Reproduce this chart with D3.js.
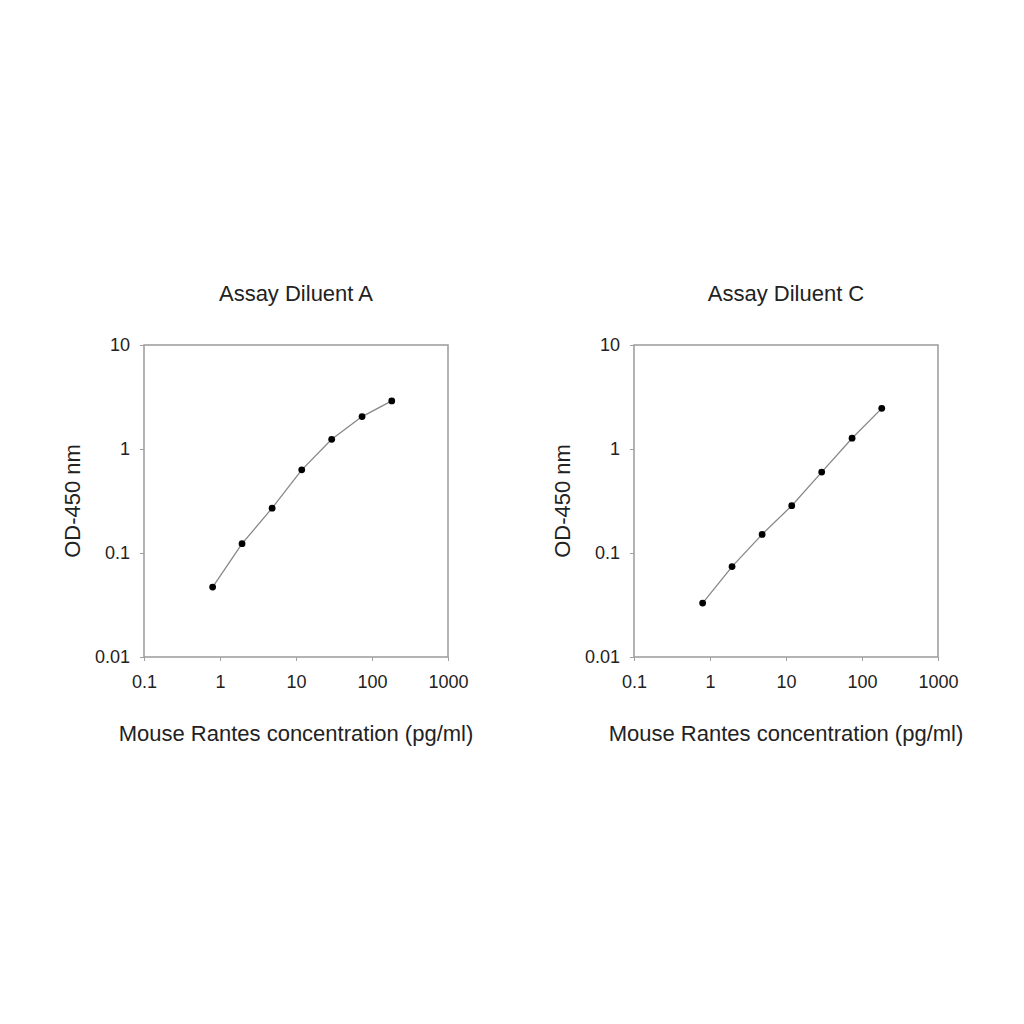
<!DOCTYPE html>
<html>
<head>
<meta charset="utf-8">
<script src="https://cdn.jsdelivr.net/npm/d3@7"></script>
<style>
  body { margin: 0; background: #fff; }
  text { font-family: "Liberation Sans", Arial, sans-serif; fill: #222; }
</style>
</head>
<body>
<svg width="1024" height="1024"></svg>
<script>
var panelTitles = ["Assay Diluent A", "Assay Diluent C"];
var concentration = [0.8, 1.95, 4.85, 11.9, 29.5, 74, 182];
var odDiluentA = [0.047, 0.123, 0.27, 0.63, 1.24, 2.05, 2.9];
var odDiluentC = [0.033, 0.074, 0.151, 0.285, 0.6, 1.27, 2.46];
var xTicks = [0.1, 1, 10, 100, 1000];
var yTicks = [0.01, 0.1, 1, 10];
var xLabel = "Mouse Rantes concentration (pg/ml)";
var yLabel = "OD-450 nm";

var series = [odDiluentA, odDiluentC];

var svg = d3.select("svg");

var plotW = 304, plotH = 312,
    plotTop = 345,
    plotLefts = [144, 634];

var x = d3.scaleLog().domain([0.1, 1000]).range([0, plotW]);
var y = d3.scaleLog().domain([0.01, 10]).range([plotH, 0]);

var fmt = function(d) { return d >= 1 ? d3.format("d")(d) : String(d); };

var line = d3.line()
    .x(function(d) { return x(d[0]); })
    .y(function(d) { return y(d[1]); });

panelTitles.forEach(function(title, i) {
  var g = svg.append("g")
      .attr("transform", "translate(" + plotLefts[i] + "," + plotTop + ")");

  // frame
  g.append("rect")
      .attr("width", plotW)
      .attr("height", plotH)
      .attr("fill", "none")
      .attr("stroke", "#a0a0a0")
      .attr("stroke-width", 1.6);

  var xAxis = g.append("g")
      .attr("transform", "translate(0," + plotH + ")")
      .call(d3.axisBottom(x).tickValues(xTicks).tickFormat(fmt).tickSize(4).tickPadding(14));
  var yAxis = g.append("g")
      .call(d3.axisLeft(y).tickValues(yTicks).tickFormat(fmt).tickSize(4).tickPadding(10));

  [xAxis, yAxis].forEach(function(a) {
    a.select(".domain").remove();
    a.selectAll(".tick line").attr("stroke", "#a0a0a0");
    a.selectAll(".tick text")
        .style("font-family", "'Liberation Sans', Arial, sans-serif")
        .style("font-size", "18px")
        .attr("fill", "#222");
  });

  var pts = concentration.map(function(c, j) { return [c, series[i][j]]; });

  g.append("path")
      .datum(pts)
      .attr("d", line)
      .attr("fill", "none")
      .attr("stroke", "#888")
      .attr("stroke-width", 1.3);

  g.selectAll("circle")
      .data(pts)
      .enter().append("circle")
      .attr("cx", function(d) { return x(d[0]); })
      .attr("cy", function(d) { return y(d[1]); })
      .attr("r", 3.4)
      .attr("fill", "#000");

  g.append("text")
      .attr("x", plotW / 2)
      .attr("y", -44)
      .attr("text-anchor", "middle")
      .style("font-size", "22px")
      .text(title);

  g.append("text")
      .attr("x", plotW / 2)
      .attr("y", plotH + 84)
      .attr("text-anchor", "middle")
      .style("font-size", "22px")
      .text(xLabel);

  g.append("text")
      .attr("transform", "translate(-64," + (plotH / 2) + ") rotate(-90)")
      .attr("text-anchor", "middle")
      .style("font-size", "22px")
      .text(yLabel);
});
</script>
</body>
</html>
